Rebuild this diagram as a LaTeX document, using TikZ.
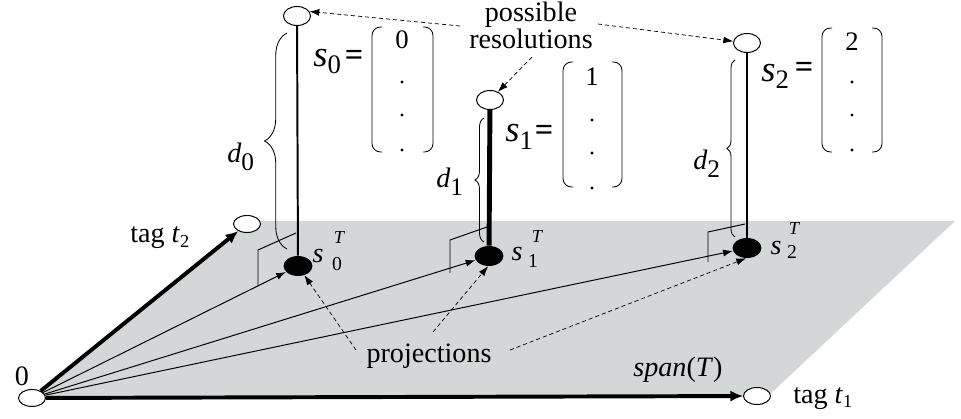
\documentclass[tikz,border=0pt]{standalone}
\usepackage{fontspec}
\setmainfont{Liberation Serif}
\usetikzlibrary{arrows.meta,shapes.geometric,decorations.pathreplacing}
\definecolor{planegray}{RGB}{211,215,215}
\newcommand\fsz[1]{\fontsize{#1}{#1}\selectfont}
\begin{document}
\begin{tikzpicture}[x=0.025cm,y=-0.025cm,
  txt/.style={inner sep=0pt, font=\fsz{20}},
  ell/.style={ellipse, draw, fill=white, line width=0.7pt, inner sep=0pt, minimum width=19.2pt, minimum height=12.1pt},
  topell/.style={ellipse, draw, fill=white, line width=0.7pt, inner sep=0pt, minimum width=19.2pt, minimum height=13.5pt},
  blackdot/.style={ellipse, fill=black, inner sep=0pt, minimum width=20.6pt, minimum height=14.2pt},
  thickarrow/.style={line width=2.8pt, -{Latex[length=9pt,width=8pt]}},
  thinarrow/.style={line width=0.7pt, -{Latex[length=7pt,width=5pt]}},
  dasharrow/.style={line width=0.5pt, dash pattern=on 3pt off 2pt, -{Latex[length=7pt,width=5pt]}},
  marker/.style={line width=0.7pt},
  bracket/.style={line width=0.6pt, rounded corners=6pt},
  bracestyle/.style={line width=0.6pt, decorate},
]
\useasboundingbox (0,0) rectangle (961,419);

% plane
\fill[planegray] (32,398) -- (251,221) -- (955,221) -- (767,397) -- cycle;

% nodes
\node[ell] (o) at (32,398) {};
\node[ell] (t2) at (247,224) {};
\node[ell] (t1) at (757,396) {};
\node[topell] (top0) at (297,16) {};
\node[topell] (top1) at (490,100) {};
\node[topell] (top2) at (747,43) {};
\node[blackdot] (dot0) at (298,266) {};
\node[blackdot] (dot1) at (489,256) {};
\node[blackdot] (dot2) at (747,248) {};

% stems
\draw[line width=1.4pt] (top0) -- (dot0);
\draw[line width=3.5pt] (top1) -- (dot1);
\draw[line width=1.4pt] (top2) -- (dot2);

% axes and projections
\draw[thickarrow] (o) -- (t2);
\draw[thickarrow] (o) -- (t1);
\draw[thinarrow] (o) -- (dot0);
\draw[thinarrow] (o) -- (dot1);
\draw[thinarrow] (o) -- (dot2);

% right-angle markers
\draw[marker] (258,286) -- (258,250) -- (296,233);
\draw[marker] (450,273) -- (450,240) -- (487,227);
\draw[marker] (708,262) -- (708,232) -- (745,224);

% braces
\draw[bracestyle, decoration={brace, amplitude=16pt}] (287,249) -- (287,33);
\draw[bracestyle, decoration={brace, amplitude=6.4pt}] (484,242) -- (484,118);
\draw[bracestyle, decoration={brace, amplitude=5.7pt}] (735,237) -- (735,60);

% d labels
\node[txt, anchor=base west] (dz) at (227,163) {\textit{d}\raisebox{-5pt}{\fsz{18}0}};
\node[txt, anchor=base west] (dn) at (436,188) {\textit{d}\raisebox{-5.5pt}{\fsz{18}1}};
\node[txt, anchor=base west] (dw) at (693,170) {\textit{d}\raisebox{-5pt}{\fsz{18}2}};

% s labels (large)
\node[txt, anchor=base west] (sz) at (313,67) {\fsz{26}\textit{s}\raisebox{-4.3pt}{\fsz{19}0}};
\node[txt, font=\fsz{23}\bfseries] (eqz) at (354,58) {=};
\node[txt, anchor=base west] (sn) at (505,142) {\fsz{26}\textit{s}\raisebox{-5pt}{\fsz{19}1}};
\node[txt, font=\fsz{23}\bfseries] (eqn) at (544,133) {=};
\node[txt, anchor=base west] (sw) at (761,82) {\fsz{26}\textit{s}\raisebox{-4.3pt}{\fsz{19}2}};
\node[txt, font=\fsz{23}\bfseries] (eqw) at (804,70) {=};

% matrices
\draw[bracket] (382,27) -- (372,27) -- (372,152) -- (382,152);
\draw[bracket] (423,27) -- (433,27) -- (433,152) -- (423,152);
\node[txt, font=\fsz{19}] (mz) at (402,40) {0};
\fill (402,82) circle[radius=1.1pt] (402,115) circle[radius=1.1pt] (402,150) circle[radius=1.1pt];

\draw[bracket] (573,62) -- (563,62) -- (563,187) -- (573,187);
\draw[bracket] (612,62) -- (622,62) -- (622,187) -- (612,187);
\node[txt, font=\fsz{19}] (mn) at (592,77) {1};
\fill (592,120) circle[radius=1.1pt] (592,153) circle[radius=1.1pt] (592,188) circle[radius=1.1pt];

\draw[bracket] (832,28) -- (822,28) -- (822,152) -- (832,152);
\draw[bracket] (872,28) -- (882,28) -- (882,152) -- (872,152);
\node[txt, font=\fsz{19}] (mw) at (852,42) {2};
\fill (852,82) circle[radius=1.1pt] (852,115) circle[radius=1.1pt] (852,150) circle[radius=1.1pt];

% s^T labels
\node[txt, font=\fsz{20}\itshape] (pz) at (318,256) {s};
\node[txt, font=\fsz{13}\itshape] (pzT) at (339,238) {T};
\node[txt, font=\fsz{14}] (pzi) at (337,264) {0};
\node[txt, font=\fsz{20}\itshape] (pn) at (517,254) {s};
\node[txt, font=\fsz{13}\itshape] (pnT) at (537,237) {T};
\node[txt, font=\fsz{14}] (pni) at (533,261) {1};
\node[txt, font=\fsz{20}\itshape] (pw) at (776,248) {s};
\node[txt, font=\fsz{13}\itshape] (pwT) at (794,229) {T};
\node[txt, font=\fsz{14}] (pwi) at (792,252) {2};

% other labels
\node[txt] (zero) at (22,376) {0};
\node[txt, anchor=base west] (tagtwo) at (130,243) {tag \textit{t}\raisebox{-3pt}{\fsz{13}2}};
\node[txt, anchor=base west] (tagone) at (793,404) {tag \textit{t}\raisebox{-2.5pt}{\fsz{13}1}};
\node[txt, anchor=base] (span) at (678,376) {\textit{span}(\textit{T})};
\node[txt, align=center, font=\fontsize{20}{17}\selectfont] (poss) at (531,25) {possible\\resolutions};
\node[txt, anchor=base] (proj) at (429,363) {projections};

% dashed pointers
\coordinate (ra) at (460,26);
\coordinate (rb) at (532,57);
\coordinate (rc) at (598,24);
\draw[dasharrow] (ra) -- (top0.20);
\draw[dasharrow] (rb) -- (top1);
\draw[dasharrow] (rc) -- (top2);
\coordinate (pa) at (356,350);
\coordinate (pb) at (433,332);
\coordinate (pc) at (510,350);
\draw[dasharrow] (pa) -- (dot0);
\draw[dasharrow] (pb) -- (dot1.-95);
\draw[dasharrow] (pc) -- (dot2.-95);
\end{tikzpicture}
\end{document}
